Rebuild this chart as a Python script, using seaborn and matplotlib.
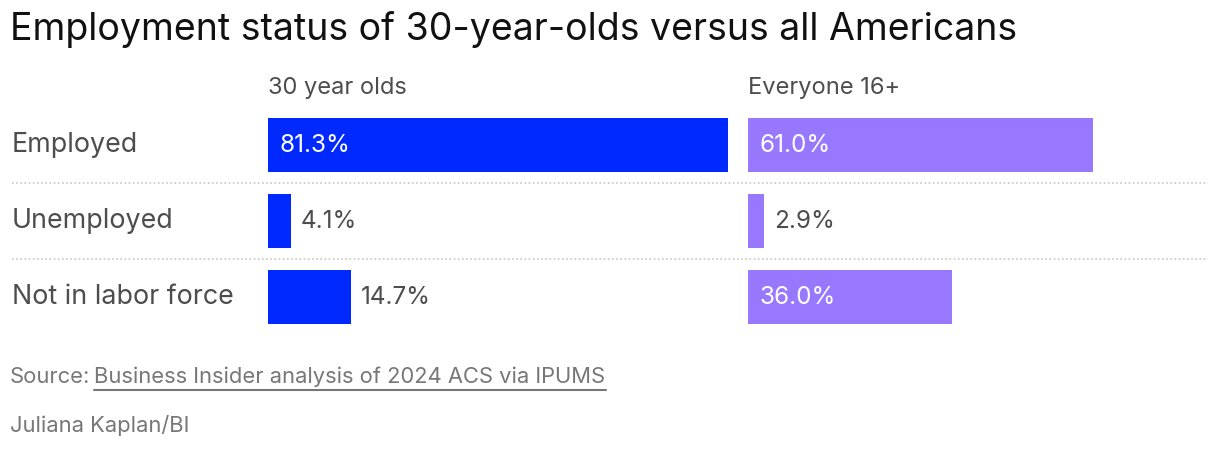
import pandas as pd
import seaborn as sns
import matplotlib.pyplot as plt
from matplotlib.transforms import blended_transform_factory

# chart data
categories = ['Employed', 'Unemployed', 'Not in labor force']
panel_titles = ['30 year olds', 'Everyone 16+']
thirty_year_olds = [81.3, 4.1, 14.7]
everyone_16_plus = [61.0, 2.9, 36.0]
bar_colors = ['#0029ff', '#9878ff']

title = 'Employment status of 30-year-olds versus all Americans'
source_lead = 'Source:'
source_link = 'Business Insider analysis of 2024 ACS via IPUMS'
credit = 'Juliana Kaplan/BI'

sns.set_theme(style='white')
plt.rcParams['font.family'] = ['Inter', 'DejaVu Sans']

W, H = 1220, 450
fig = plt.figure(figsize=(W / 100, H / 100), dpi=100)

def box(x0, y0, x1, y1):
    # pixel box (top-left origin) -> figure fraction
    return [x0 / W, 1 - y1 / H, (x1 - x0) / W, (y1 - y0) / H]

ax_left = fig.add_axes(box(268, 107, 728, 335))
ax_right = fig.add_axes(box(748, 107, 1208, 335))

text_gray = '#4d4d4d'
xmax = max(thirty_year_olds + everyone_16_plus)

for ax, vals, color, head in zip([ax_left, ax_right],
                                 [thirty_year_olds, everyone_16_plus],
                                 bar_colors, panel_titles):
    df = pd.DataFrame({'category': categories, 'value': vals})
    sns.barplot(data=df, x='value', y='category', color=color, width=0.71,
                saturation=1, linewidth=0, ax=ax, orient='h')
    ax.set_xlim(0, xmax)
    ax.set_ylim(len(categories) - 0.5, -0.5)
    ax.axis('off')
    ax.text(0, 1.085, head, transform=ax.transAxes, fontsize=17,
            color=text_gray, va='center', ha='left')
    for i, v in enumerate(vals):
        if v > 20:
            ax.text(2.0, i, f'{v:.1f}%', color='white', fontsize=17.5,
                    va='center', ha='left')
        else:
            ax.text(v + 1.7, i, f'{v:.1f}%', color=text_gray, fontsize=17.5,
                    va='center', ha='left')

# category labels and dotted separators
tr = blended_transform_factory(fig.transFigure, ax_left.transData)
for i, c in enumerate(categories):
    ax_left.text(12 / W, i, c, transform=tr, fontsize=19.3, color=text_gray,
                 va='center', ha='left', clip_on=False)
for i in range(len(categories) - 1):
    ax_left.plot([12 / W, 1208 / W], [i + 0.5, i + 0.5], transform=tr,
                 color='#c8c8c8', lw=1.2, ls=(0, (1, 1.5)), clip_on=False)

fig.text(10 / W, 1 - 30 / H, title, fontsize=27, color='#111111',
         va='center', ha='left')

# footer with underlined source link
foot_size = 15.8
lead = fig.text(10 / W, 1 - 377 / H, source_lead, fontsize=foot_size,
                color='#777777', va='center', ha='left')
fig.canvas.draw()
bb = lead.get_window_extent()
link = fig.text((bb.x1 + 4) / W, 1 - 377 / H, source_link, fontsize=foot_size,
                color='#777777', va='center', ha='left')
fig.canvas.draw()
lb = link.get_window_extent()
fig.add_artist(plt.Line2D([lb.x0 / W, lb.x1 / W], [1 - 389.5 / H, 1 - 389.5 / H],
                          transform=fig.transFigure, color='#777777', lw=1.5))
fig.text(10 / W, 1 - 425 / H, credit, fontsize=foot_size, color='#777777',
         va='center', ha='left')

fig.savefig('out.png', dpi=100, facecolor='white')
